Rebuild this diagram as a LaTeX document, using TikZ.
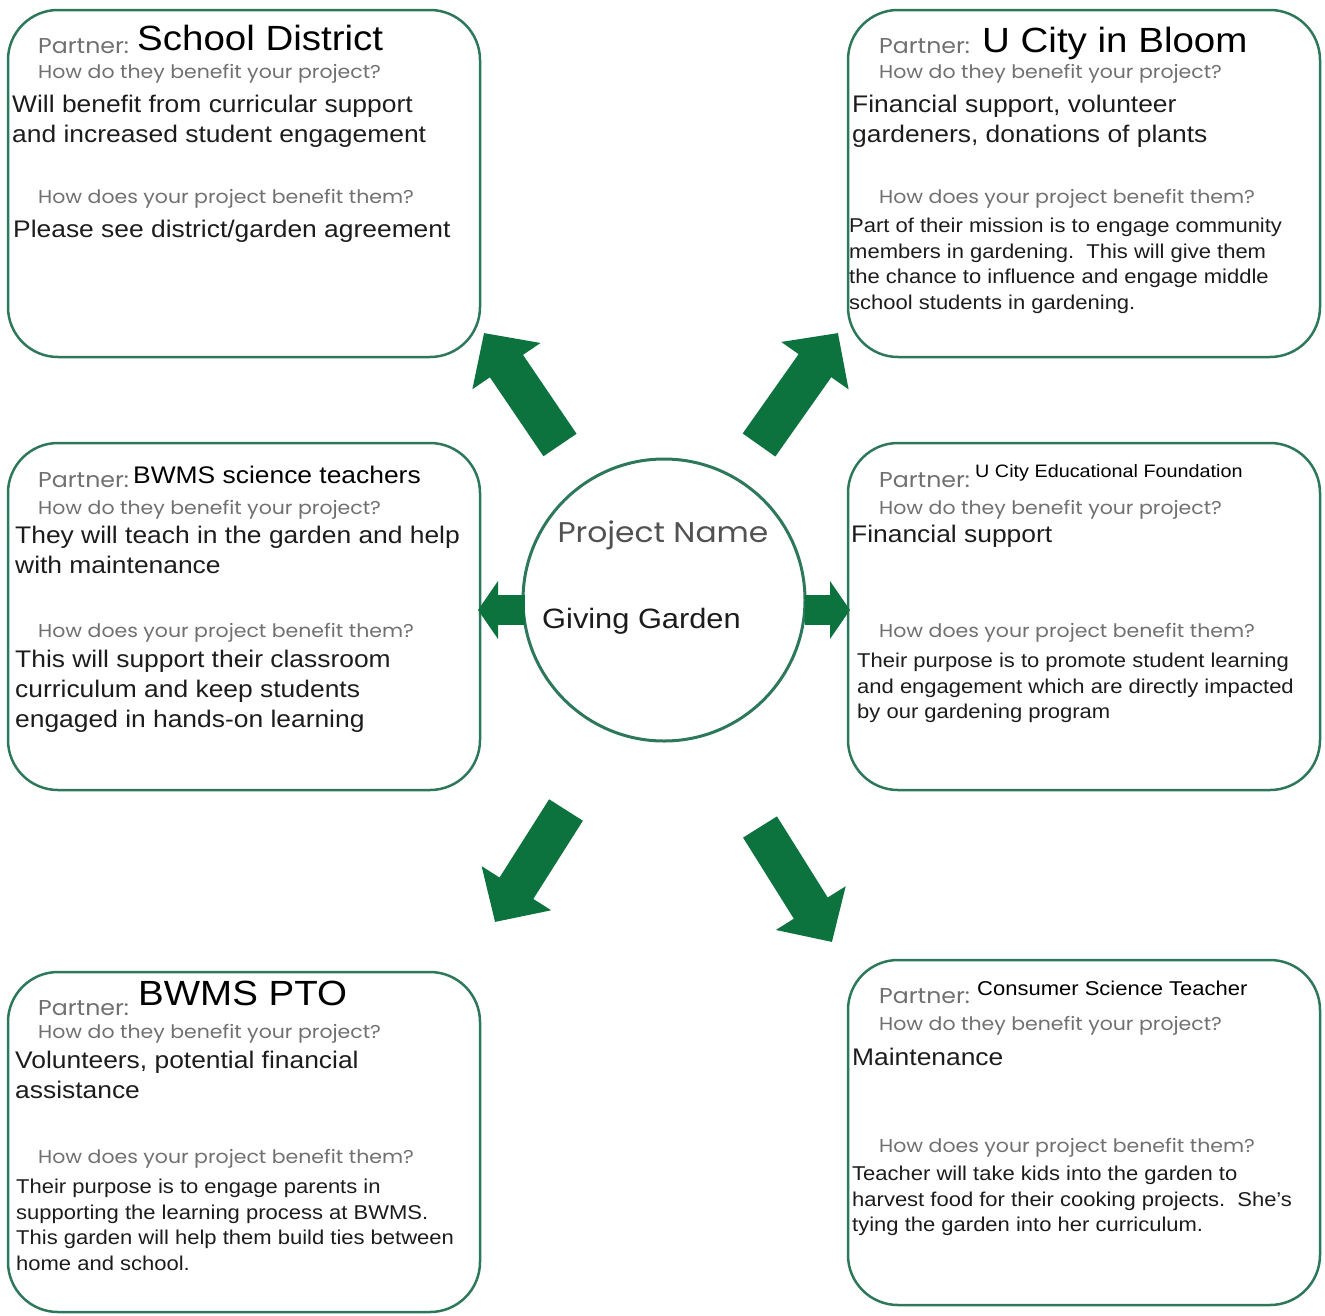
\documentclass[tikz,border=0pt]{standalone}
\usepackage{fontspec}
\setmainfont{Liberation Sans}[FakeStretch=1.1]
\newfontfamily\formfont{Poppins}[FakeStretch=1.1]
\usetikzlibrary{arrows.meta}

\definecolor{boxgreen}{RGB}{45,120,90}
\definecolor{arrowgreen}{RGB}{12,115,62}
\definecolor{formgray}{RGB}{112,112,112}
\definecolor{inkgray}{RGB}{28,28,28}

\tikzset{
  partnerbox/.style={draw=boxgreen, line width=2.5pt, rounded corners=50pt},
  hubcircle/.style={circle, draw=boxgreen, line width=3pt, minimum size=282pt, inner sep=0pt},
  partnerlbl/.style={anchor=base west, inner sep=0pt, text=formgray, font=\formfont\fontsize{21.5}{24}\selectfont},
  question/.style={anchor=base west, inner sep=0pt, text=formgray, font=\formfont\fontsize{18.6}{22}\selectfont},
  partnername/.style={anchor=base west, inner sep=0pt, text=black},
  answer/.style={anchor=north west, inner sep=0pt, align=left, text=inkgray, font=\fontsize{24}{30}\selectfont},
  answersmall/.style={answer, font=\fontsize{20}{25.5}\selectfont},
  bigarrow/.style={arrowgreen, line width=40pt, -{Triangle[width=80pt,length=40pt]}},
  sidearrow/.style={arrowgreen, line width=30pt, -{Triangle[width=57pt,length=20pt]}}
}

\begin{document}
\begin{tikzpicture}[x=1pt, y=-1pt]
  \useasboundingbox (0,0) rectangle (1325,1315);

  % Partner boxes
  \draw[partnerbox] (8,10) rectangle (480,357);
  \draw[partnerbox] (848,10) rectangle (1320,357);
  \draw[partnerbox] (8,443) rectangle (480,790);
  \draw[partnerbox] (848,443) rectangle (1320,790);
  \draw[partnerbox] (8,972) rectangle (480,1312);
  \draw[partnerbox] (848,960) rectangle (1320,1305);

  % School District
  \node[partnerlbl] (sd-lbl) at (38,53) {Partner:};
  \node[partnername, font=\fontsize{35}{40}\selectfont] (sd-name) at (137,50) {School District};
  \node[question] (sd-q1) at (38,78) {How do they benefit your project?};
  \node[answer] (sd-a1) at (12,95) {Will benefit from curricular support\\and increased student engagement};
  \node[question] (sd-q2) at (38,203) {How does your project benefit them?};
  \node[answer] (sd-a2) at (13,220) {Please see district/garden agreement};

  % U City in Bloom
  \node[partnerlbl] (bloom-lbl) at (879,53) {Partner:};
  \node[partnername, font=\fontsize{35}{40}\selectfont] (bloom-name) at (982,52) {U City in Bloom};
  \node[question] (bloom-q1) at (879,78) {How do they benefit your project?};
  \node[answer] (bloom-a1) at (852,95) {Financial support, volunteer\\gardeners, donations of plants};
  \node[question] (bloom-q2) at (879,203) {How does your project benefit them?};
  \node[answersmall] (bloom-a2) at (849,218) {Part of their mission is to engage community\\members in gardening.\ \ This will give them\\the chance to influence and engage middle\\school students in gardening.};

  % BWMS science teachers
  \node[partnerlbl] (sci-lbl) at (38,487) {Partner:};
  \node[partnername, font=\fontsize{24}{28}\selectfont] (sci-name) at (133,483) {BWMS science teachers};
  \node[question] (sci-q1) at (38,514) {How do they benefit your project?};
  \node[answer] (sci-a1) at (15,526) {They will teach in the garden and help\\with maintenance};
  \node[question] (sci-q2) at (38,637) {How does your project benefit them?};
  \node[answer] (sci-a2) at (15,650) {This will support their classroom\\curriculum and keep students\\engaged in hands-on learning};

  % U City Educational Foundation
  \node[partnerlbl] (found-lbl) at (879,487) {Partner:};
  \node[partnername, font=\fontsize{18}{22}\selectfont] (found-name) at (975,477) {U City Educational Foundation};
  \node[question] (found-q1) at (879,514) {How do they benefit your project?};
  \node[answer] (found-a1) at (851,525) {Financial support};
  \node[question] (found-q2) at (879,637) {How does your project benefit them?};
  \node[answersmall] (found-a2) at (857,653) {Their purpose is to promote student learning\\and engagement which are directly impacted\\by our gardening program};

  % BWMS PTO
  \node[partnerlbl] (pto-lbl) at (38,1015) {Partner:};
  \node[partnername, font=\fontsize{35}{40}\selectfont] (pto-name) at (138,1005) {BWMS PTO};
  \node[question] (pto-q1) at (38,1038) {How do they benefit your project?};
  \node[answer] (pto-a1) at (15,1051) {Volunteers, potential financial\\assistance};
  \node[question] (pto-q2) at (38,1163) {How does your project benefit them?};
  \node[answersmall] (pto-a2) at (16,1179) {Their purpose is to engage parents in\\supporting the learning process at BWMS.\\This garden will help them build ties between\\home and school.};

  % Consumer Science Teacher
  \node[partnerlbl] (cs-lbl) at (879,1003) {Partner:};
  \node[partnername, font=\fontsize{20}{24}\selectfont] (cs-name) at (977,995) {Consumer Science Teacher};
  \node[question] (cs-q1) at (879,1030) {How do they benefit your project?};
  \node[answer] (cs-a1) at (852,1048) {Maintenance};
  \node[question] (cs-q2) at (879,1152) {How does your project benefit them?};
  \node[answersmall] (cs-a2) at (852,1166) {Teacher will take kids into the garden to\\harvest food for their cooking projects.\ \ She's\\tying the garden into her curriculum.};

  % Centre
  \node[hubcircle] (hub) at (664,600) {};
  \node[anchor=base, inner sep=0pt, text=black!68, font=\formfont\fontsize{28.5}{30}\selectfont] (proj-lbl) at (663,542) {Project Name};
  \node[anchor=base west, inner sep=0pt, text=inkgray, font=\fontsize{28}{32}\selectfont] (proj-name) at (542,628) {Giving Garden};

  % Arrows out to the partners
  \coordinate (ul-tail) at (560,445);  \coordinate (ul-tip) at (484,333);
  \coordinate (ur-tail) at (759,445);  \coordinate (ur-tip) at (838,333);
  \coordinate (ml-tail) at (525,610);  \coordinate (ml-tip) at (478,610);
  \coordinate (mr-tail) at (805,610);  \coordinate (mr-tip) at (850,610);
  \coordinate (ll-tail) at (566,810);  \coordinate (ll-tip) at (495,922);
  \coordinate (lr-tail) at (760,827);  \coordinate (lr-tip) at (832,942);

  \draw[bigarrow] (ul-tail) -- (ul-tip);
  \draw[bigarrow] (ur-tail) -- (ur-tip);
  \draw[sidearrow] (ml-tail) -- (ml-tip);
  \draw[sidearrow] (mr-tail) -- (mr-tip);
  \draw[bigarrow] (ll-tail) -- (ll-tip);
  \draw[bigarrow] (lr-tail) -- (lr-tip);

\end{tikzpicture}
\end{document}
